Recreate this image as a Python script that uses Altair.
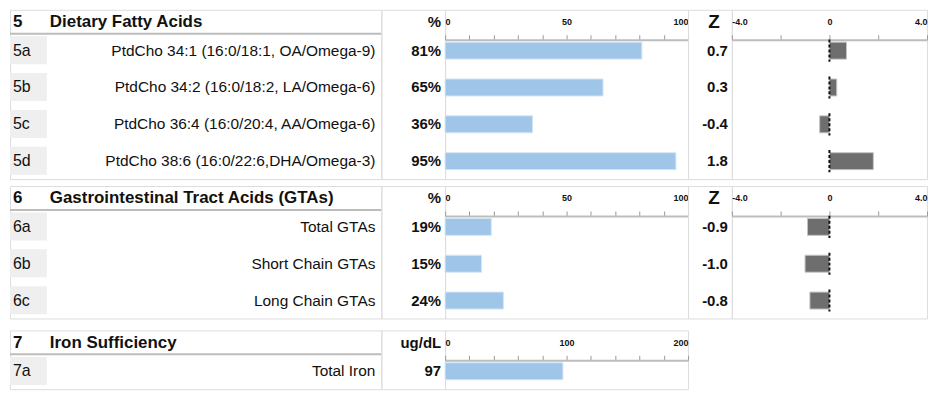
import altair as alt
import pandas as pd

FONT = "Liberation Sans"
BORDER = "#bdbdbd"
BAR_BLUE = "#9fc5e8"
BAR_GREY = "#6e6e6e"

# ---- Section 5 ----
s5_num = "5"
s5_title = "Dietary Fatty Acids"
s5_unit = "%"
s5_ids = ["5a", "5b", "5c", "5d"]
s5_labels = [
    "PtdCho 34:1 (16:0/18:1, OA/Omega-9)",
    "PtdCho 34:2 (16:0/18:2, LA/Omega-6)",
    "PtdCho 36:4 (16:0/20:4, AA/Omega-6)",
    "PtdCho 38:6 (16:0/22:6,DHA/Omega-3)",
]
s5_values = [81, 65, 36, 95]
s5_z = [0.7, 0.3, -0.4, 1.8]

# ---- Section 6 ----
s6_num = "6"
s6_title = "Gastrointestinal Tract Acids (GTAs)"
s6_unit = "%"
s6_ids = ["6a", "6b", "6c"]
s6_labels = ["Total GTAs", "Short Chain GTAs", "Long Chain GTAs"]
s6_values = [19, 15, 24]
s6_z = [-0.9, -1.0, -0.8]

# ---- Section 7 ----
s7_num = "7"
s7_title = "Iron Sufficiency"
s7_unit = "ug/dL"
s7_ids = ["7a"]
s7_labels = ["Total Iron"]
s7_values = [97]

# axis extents
pct_max = 100
iron_max = 200
z_lim = 4

# layout (pixels per row etc.)
ROW_PX = 37
TOP_PX = 41      # from box top to first row centre
BOT_PX = 18      # from last row centre to box bottom
AXIS_PX = 30     # from box top to axis baseline
HDR_LINE = -(TOP_PX - 24) / ROW_PX
HDR_TEXT = -(TOP_PX - 12.5) / ROW_PX


def section(num, title, unit, ids, labels, values, xmax, vfmt, zvals=None):
    n = len(ids)
    height = TOP_PX + ROW_PX * (n - 1) + BOT_PX
    ydom = [-TOP_PX / ROW_PX, (n - 1) + BOT_PX / ROW_PX]
    ysc = alt.Scale(domain=ydom, reverse=True, nice=False, zero=False)

    df = pd.DataFrame({
        "id": ids, "label": labels, "value": values,
        "row": list(range(n)),
        "vtext": [vfmt(v) for v in values],
    })
    if zvals is not None:
        df["z"] = zvals
        df["ztext"] = [f"{v:.1f}" for v in zvals]
    hdr = pd.DataFrame({"num": [num], "title": [title], "unit": [unit], "zl": ["Z"]})

    base = alt.Chart(df)
    hbase = alt.Chart(hdr)
    y_row = alt.Y("row:Q", scale=ysc, axis=None)
    y_hdr = alt.YDatum(HDR_TEXT, scale=ysc, axis=None)

    # --- label column ---
    cells = base.mark_rect(color="#efefef").transform_calculate(
        lo="datum.row - 0.39", hi="datum.row + 0.37"
    ).encode(x=alt.value(0), x2=alt.value(37),
             y=alt.Y("lo:Q", scale=ysc, axis=None), y2="hi:Q")
    hline = hbase.mark_rule(color=BORDER, strokeWidth=2).encode(
        x=alt.value(0), x2=alt.value("width"),
        y=alt.YDatum(HDR_LINE, scale=ysc, axis=None))
    id_txt = base.mark_text(align="left", baseline="middle", font=FONT,
                            fontSize=16, color="#111").encode(
        x=alt.value(3), y=y_row, text="id:N")
    lab_txt = base.mark_text(align="right", baseline="middle", font=FONT,
                             fontSize=15.5, color="#111").encode(
        x=alt.value(367), y=y_row, text="label:N")
    num_txt = hbase.mark_text(align="left", baseline="middle", font=FONT,
                              fontSize=17, fontWeight="bold", color="#111").encode(
        x=alt.value(3), y=y_hdr, text="num:N")
    ttl_txt = hbase.mark_text(align="left", baseline="middle", font=FONT,
                              fontSize=17, fontWeight="bold", color="#111").encode(
        x=alt.value(40), y=y_hdr, text="title:N")
    label_panel = alt.layer(cells, hline, id_txt, lab_txt, num_txt, ttl_txt).properties(
        width=373, height=height)

    # --- value column ---
    unit_txt = hbase.mark_text(align="right", baseline="middle", font=FONT,
                               fontSize=15, fontWeight="bold", color="#111").encode(
        x=alt.value(60), y=y_hdr, text="unit:N")
    val_txt = base.mark_text(align="right", baseline="middle", font=FONT,
                             fontSize=15, fontWeight="bold", color="#111").encode(
        x=alt.value(60), y=y_row, text="vtext:N")
    value_panel = alt.layer(unit_txt, val_txt).properties(width=64, height=height)

    # --- bar panel ---
    half = xmax // 2
    bar_axis = alt.Axis(
        orient="top", offset=-AXIS_PX, values=list(range(0, xmax + 1, xmax // 10)),
        labelExpr=f"datum.value % {half} == 0 ? datum.label : ''",
        tickSize=5, tickColor="#999", tickWidth=1,
        domainColor=BORDER, domainWidth=2,
        labelFont=FONT, labelFontSize=9, labelFontWeight="bold", labelColor="#111",
        labelPadding=8, labelFlush=True, labelOverlap=False, grid=False, title=None,
    )
    bars = base.mark_rect(color=BAR_BLUE, stroke="#d4e5f5", strokeWidth=1).transform_calculate(
        lo="datum.row - 0.23", hi="datum.row + 0.23"
    ).encode(
        x=alt.X("value:Q", scale=alt.Scale(domain=[0, xmax], nice=False), axis=bar_axis),
        x2=alt.X2Datum(0),
        y=alt.Y("lo:Q", scale=ysc, axis=None), y2="hi:Q",
    )
    bar_panel = bars.properties(width=244, height=height)

    panels = [label_panel, value_panel, bar_panel]

    if zvals is not None:
        zhead = hbase.mark_text(align="center", baseline="middle", font=FONT,
                                fontSize=19, fontWeight="bold", color="#111").encode(
            x=alt.value(26), y=y_hdr, text="zl:N")
        ztxt = base.mark_text(align="right", baseline="middle", font=FONT,
                              fontSize=15, fontWeight="bold", color="#111").encode(
            x=alt.value(40), y=y_row, text="ztext:N")
        zcol = alt.layer(zhead, ztxt).properties(width=44, height=height)

        z_axis = alt.Axis(
            orient="top", offset=-AXIS_PX, values=list(range(-z_lim, z_lim + 1)),
            labelExpr=f"datum.value == 0 ? '0' : (datum.value == {-z_lim} ? '-{z_lim}.0' : (datum.value == {z_lim} ? '{z_lim}.0' : ''))",
            tickSize=5, tickColor="#999", tickWidth=1,
            domainColor=BORDER, domainWidth=2,
            labelFont=FONT, labelFontSize=9, labelFontWeight="bold", labelColor="#111",
            labelPadding=8, labelFlush=True, labelOverlap=False, grid=False, title=None,
        )
        zsc = alt.Scale(domain=[-z_lim, z_lim], nice=False, zero=False)
        zbars = base.mark_rect(color=BAR_GREY, stroke="#c4c4c4", strokeWidth=1).transform_calculate(
            lo="datum.row - 0.23", hi="datum.row + 0.23"
        ).encode(
            x=alt.X("z:Q", scale=zsc, axis=z_axis),
            x2=alt.X2Datum(0),
            y=alt.Y("lo:Q", scale=ysc, axis=None), y2="hi:Q",
        )
        zrule = base.mark_rule(color="#111", strokeWidth=2, strokeDash=[3, 2]).transform_calculate(
            lo="datum.row - 0.3", hi="datum.row + 0.3"
        ).encode(
            x=alt.XDatum(0, scale=zsc),
            y=alt.Y("lo:Q", scale=ysc, axis=None), y2="hi:Q",
        )
        zpanel = alt.layer(zbars, zrule).properties(width=196, height=height)
        panels += [zcol, zpanel]

    return alt.hconcat(*panels, spacing=0, bounds="flush").resolve_scale(
        x="independent", y="independent")


pct_fmt = lambda v: f"{v}%"
num_fmt = lambda v: f"{v}"

sec5 = section(s5_num, s5_title, s5_unit, s5_ids, s5_labels, s5_values, pct_max, pct_fmt, s5_z)
sec6 = section(s6_num, s6_title, s6_unit, s6_ids, s6_labels, s6_values, pct_max, pct_fmt, s6_z)
sec7 = section(s7_num, s7_title, s7_unit, s7_ids, s7_labels, s7_values, iron_max, num_fmt)

top = alt.vconcat(sec5, sec6, spacing=5).resolve_scale(
    x="independent", y="independent")
chart = alt.vconcat(top, sec7, spacing=10).resolve_scale(
    x="independent", y="independent"
).properties(
    padding={"left": 0, "top": 0, "right": 0, "bottom": 0}
).configure_view(
    stroke=BORDER, strokeWidth=2
).configure(
    background="white"
)

chart.save("out.html", embed_options={"renderer": "svg", "actions": False})
